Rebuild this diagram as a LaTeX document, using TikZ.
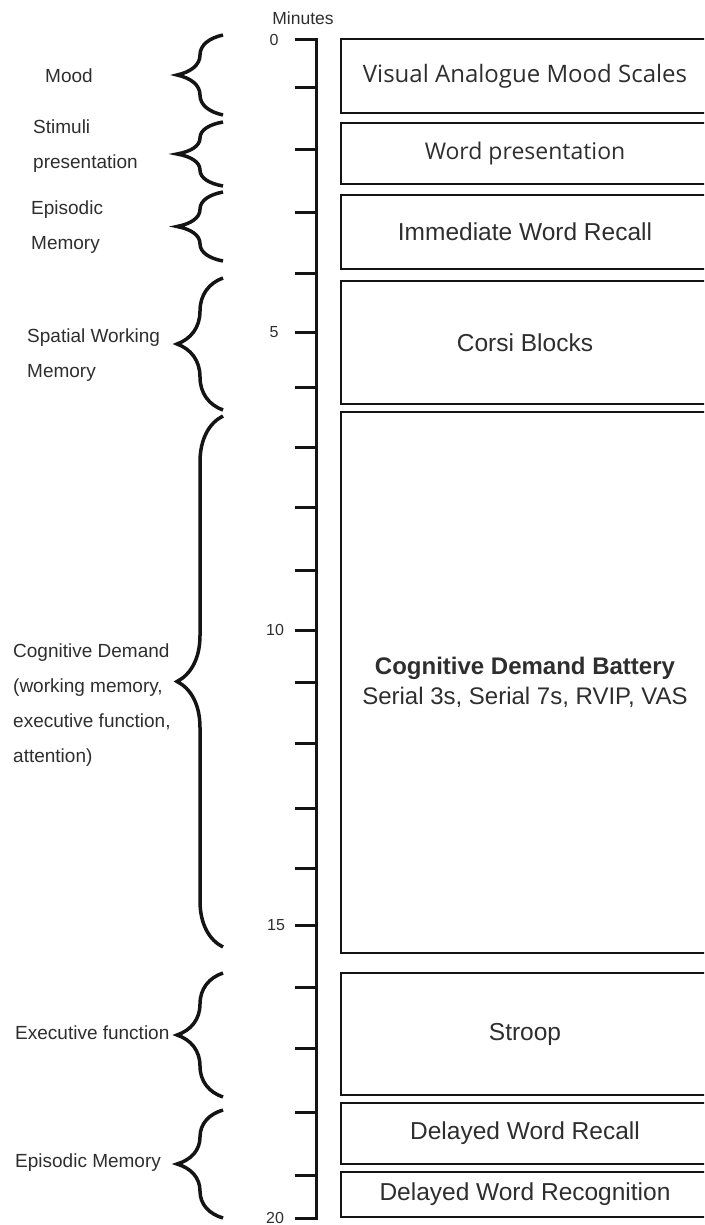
\documentclass[tikz,border=0pt]{standalone}
\usepackage{fontspec}
\setmainfont{Liberation Sans}
\newfontfamily\opensans{Open Sans}
\usetikzlibrary{decorations.pathreplacing}
\definecolor{ink}{HTML}{141414}
\definecolor{txt}{HTML}{2E2E2E}
\begin{document}
\begin{tikzpicture}[x=1pt,y=-1pt,
  box/.style={draw=ink, line width=2pt, anchor=north west, minimum width=368pt,
    inner sep=0pt, text=txt, font=\fontsize{24.5}{30}\selectfont, align=center},
  lab/.style={anchor=west, text=txt, font=\fontsize{19}{35}\selectfont, align=left, inner sep=0pt},
  brc/.style={decorate, decoration={brace, amplitude=46pt}, line width=3.5pt, draw=ink},
  axis/.style={line width=3pt, draw=ink},
  ticklab/.style={text=txt, font=\fontsize{16}{16}\selectfont, inner sep=0pt}]
\useasboundingbox (0,0) rectangle (704,1225);
\clip (0,0) rectangle (704,1225);

% axis
\draw[axis] (295,40) -- (316,40) -- (316,1218) -- (295,1218);
\foreach \y in {88,150,212,273,332,387,447,507,570,630,682,743,808,868,925,987,1048,1112,1175}
  \draw[axis] (295,\y) -- (316,\y);
\node[ticklab] (mins) at (303,18) {\fontsize{17.5}{17.5}\selectfont Minutes};
\node[ticklab] (t0) at (274,40) {0};
\node[ticklab] (t5) at (274,332) {5};
\node[ticklab] (t10) at (275,630) {10};
\node[ticklab] (t15) at (276,925) {15};
\node[ticklab] (t20) at (275,1218) {20};

% boxes
\node[box, minimum height=74pt, font=\opensans\fontsize{24}{28}\selectfont] (b1) at (340,38) {Visual Analogue Mood Scales};
\node[box, minimum height=61pt, font=\opensans\fontsize{23}{28}\selectfont] (b2) at (340,122) {Word presentation};
\node[box, minimum height=74pt] (b3) at (340,194) {Immediate Word Recall};
\node[box, minimum height=123pt] (b4) at (340,280) {Corsi Blocks};
\node[box, minimum height=541pt, font=\fontsize{24}{30}\selectfont] (b5) at (340,411) {\textbf{Cognitive Demand Battery}\\Serial 3s, Serial 7s, RVIP, VAS};
\node[box, minimum height=122pt] (b6) at (340,972) {Stroop};
\node[box, minimum height=61pt] (b7) at (340,1102) {Delayed Word Recall};
\node[box, minimum height=45pt] (b8) at (340,1171) {Delayed Word Recognition};

% braces
\draw[brc] (223,115) -- (223,35);
\draw[brc] (223,186) -- (223,122);
\draw[brc] (223,261) -- (223,192);
\draw[brc] (223,410) -- (223,278);
\draw[brc] (223,947) -- (223,416);
\draw[brc] (223,1097) -- (223,973);
\draw[brc] (223,1218) -- (223,1110);

% labels
\node[lab] (l1) at (45,76) {Mood};
\node[lab] (l2) at (33,146) {Stimuli\\presentation};
\node[lab] (l3) at (31,227) {Episodic\\Memory};
\node[lab] (l4) at (27,355) {Spatial Working\\Memory};
\node[lab] (l5) at (13,705) {Cognitive Demand\\(working memory,\\executive function,\\attention)};
\node[lab] (l6) at (15,1033) {Executive function};
\node[lab] (l7) at (15,1163) {Episodic Memory};
\end{tikzpicture}
\end{document}
